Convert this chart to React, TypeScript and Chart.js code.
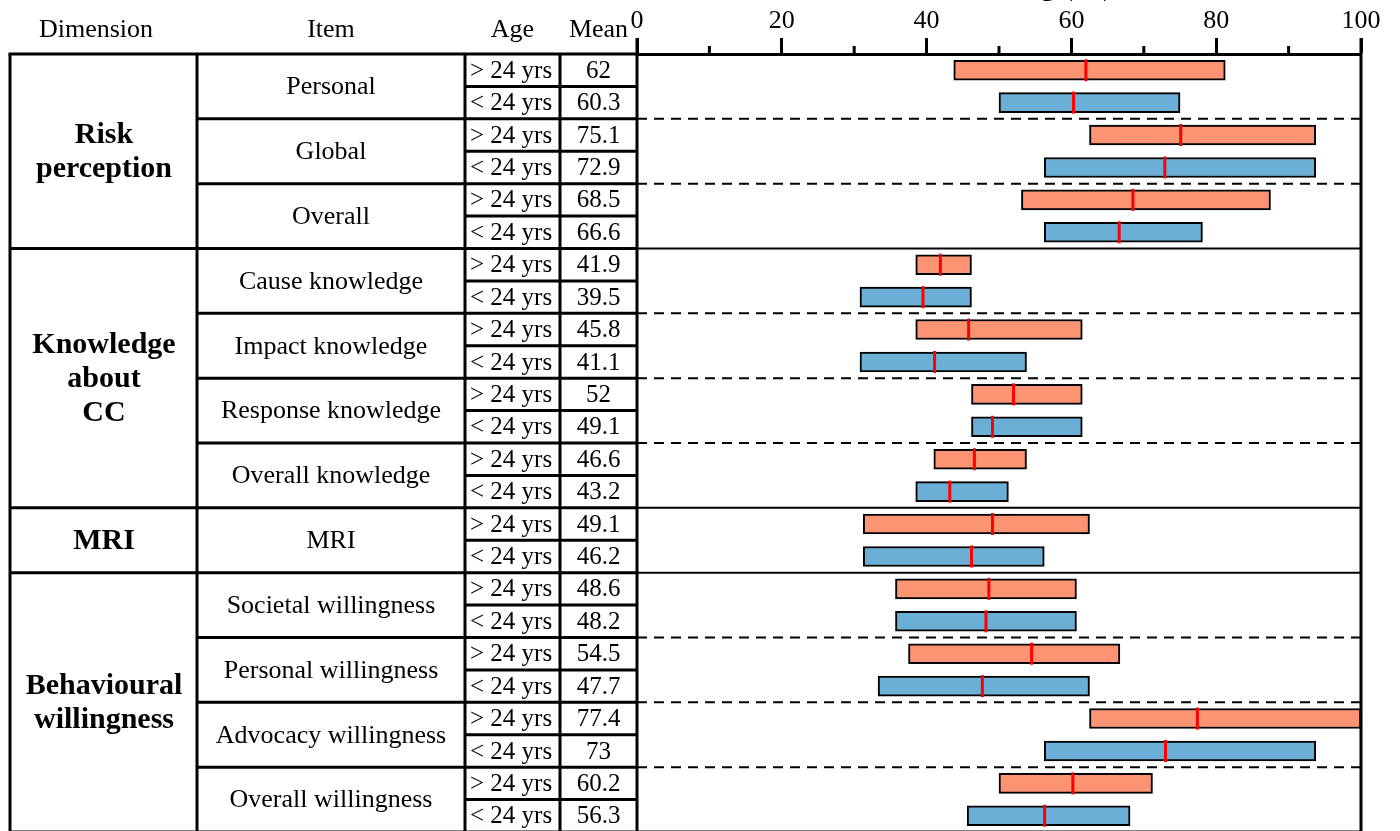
import React, { useEffect, useRef } from 'react';
import { Chart, registerables } from 'chart.js';

Chart.register(...registerables);

// ---------- data ----------
const AGE_GROUPS = ['> 24 yrs', '< 24 yrs'];
const DIMENSIONS = ['Risk\nperception', 'Knowledge\nabout\nCC', 'MRI', 'Behavioural\nwillingness'];
const ITEMS = [
  'Personal', 'Global', 'Overall',
  'Cause knowledge', 'Impact knowledge', 'Response knowledge', 'Overall knowledge',
  'MRI',
  'Societal willingness', 'Personal willingness', 'Advocacy willingness', 'Overall willingness',
];
const ITEM_DIMENSION = [0, 0, 0, 1, 1, 1, 1, 2, 3, 3, 3, 3];
const MEAN_OVER_24 = [62, 75.1, 68.5, 41.9, 45.8, 52, 46.6, 49.1, 48.6, 54.5, 77.4, 60.2];
const MEAN_UNDER_24 = [60.3, 72.9, 66.6, 39.5, 41.1, 49.1, 43.2, 46.2, 48.2, 47.7, 73, 56.3];
const LOW_OVER_24 = [43.75, 62.5, 53.1, 38.5, 38.5, 46.2, 41.0, 31.25, 35.7, 37.5, 62.5, 50];
const HIGH_OVER_24 = [81.25, 93.75, 87.5, 46.2, 61.5, 61.5, 53.8, 62.5, 60.7, 66.7, 100, 71.2];
const LOW_UNDER_24 = [50, 56.25, 56.25, 30.8, 30.8, 46.2, 38.5, 31.25, 35.7, 33.3, 56.25, 45.6];
const HIGH_UNDER_24 = [75, 93.75, 78.1, 46.2, 53.8, 61.5, 51.3, 56.25, 60.7, 62.5, 93.75, 68.1];
const HEADERS = ['Dimension', 'Item', 'Age', 'Mean'];
const X_TICKS_MAJOR = [0, 20, 40, 60, 80, 100];
const AXIS_TITLE = 'Scoring (%)';

const FONT = "'Liberation Serif', 'Times New Roman', serif";

export default function App() {
  const ref = useRef<HTMLCanvasElement>(null);

  useEffect(() => {
    const canvas = ref.current;
    if (!canvas) return;

    const rowLabels: string[] = [];
    const rowItem: number[] = [];
    const rowAge: number[] = [];
    ITEMS.forEach((item, i) => {
      AGE_GROUPS.forEach((age, a) => {
        rowLabels.push(`${item} (${age})`);
        rowItem.push(i);
        rowAge.push(a);
      });
    });

    const overData = rowLabels.map((_, k) =>
      rowAge[k] === 0 ? [LOW_OVER_24[rowItem[k]], HIGH_OVER_24[rowItem[k]]] : null);
    const underData = rowLabels.map((_, k) =>
      rowAge[k] === 1 ? [LOW_UNDER_24[rowItem[k]], HIGH_UNDER_24[rowItem[k]]] : null);
    const meanPoints = rowLabels.map((label, k) => ({
      x: rowAge[k] === 0 ? MEAN_OVER_24[rowItem[k]] : MEAN_UNDER_24[rowItem[k]],
      y: label,
    }));

    const COL_X = [10, 197, 465, 560];

    const tablePlugin = {
      id: 'tablePlugin',
      afterDraw(chart: any) {
        const ctx: CanvasRenderingContext2D = chart.ctx;
        const area = chart.chartArea;
        const ys = chart.scales.y;
        const xs = chart.scales.x;
        const n = rowLabels.length;
        const rowH = Math.abs(ys.getPixelForValue(1) - ys.getPixelForValue(0));
        const boundary = (i: number) =>
          i < n ? ys.getPixelForValue(i) - rowH / 2 : ys.getPixelForValue(n - 1) + rowH / 2;
        const left = COL_X[0];
        const bottom = boundary(n);

        ctx.save();
        ctx.strokeStyle = '#000';
        ctx.lineCap = 'butt';

        const hline = (x1: number, x2: number, y: number, w: number, dash: number[] = []) => {
          ctx.beginPath();
          ctx.setLineDash(dash);
          ctx.lineWidth = w;
          ctx.moveTo(x1, y);
          ctx.lineTo(x2, y);
          ctx.stroke();
        };
        const vline = (x: number, y1: number, y2: number, w: number) => {
          ctx.beginPath();
          ctx.setLineDash([]);
          ctx.lineWidth = w;
          ctx.moveTo(x, y1);
          ctx.lineTo(x, y2);
          ctx.stroke();
        };

        // horizontal lines
        hline(left - 1.5, area.left, area.top, 3);
        for (let i = 1; i <= n; i++) {
          const y = boundary(i);
          if (i === n) { hline(left, area.right, y, 3); continue; }
          const prevItem = rowItem[i - 1];
          const nextItem = rowItem[i];
          if (prevItem !== nextItem) {
            if (ITEM_DIMENSION[prevItem] !== ITEM_DIMENSION[nextItem]) {
              hline(left, area.left, y, 3);
              hline(area.left, area.right, y, 2);
            } else {
              hline(COL_X[1], area.left, y, 3);
              hline(area.left, area.right, y, 2, [10, 7]);
            }
          } else {
            hline(COL_X[2], area.left, y, 3);
          }
        }

        // vertical lines
        COL_X.forEach((x) => vline(x, area.top, bottom, 3));
        vline(area.left, area.top - 16, bottom, 3);
        vline(area.right, area.top - 16, bottom, 3);

        // minor ticks
        for (let v = 10; v < 100; v += 20) {
          const px = xs.getPixelForValue(v);
          vline(px, area.top - 8, area.top, 3);
        }

        // header
        ctx.fillStyle = '#000';
        ctx.textBaseline = 'alphabetic';
        ctx.textAlign = 'center';
        ctx.font = `26px ${FONT}`;
        const headerX = [96, (COL_X[1] + COL_X[2]) / 2, (COL_X[2] + COL_X[3]) / 2, (COL_X[3] + area.left) / 2];
        HEADERS.forEach((h, i) => ctx.fillText(h, headerX[i], 37));

        // cells
        ctx.textBaseline = 'middle';
        ctx.font = `25px ${FONT}`;
        for (let k = 0; k < n; k++) {
          const cy = ys.getPixelForValue(k) + 1;
          ctx.textAlign = 'left';
          ctx.fillText(AGE_GROUPS[rowAge[k]], COL_X[2] + 5, cy);
          ctx.textAlign = 'center';
          const m = rowAge[k] === 0 ? MEAN_OVER_24[rowItem[k]] : MEAN_UNDER_24[rowItem[k]];
          ctx.fillText(String(m), (COL_X[3] + area.left) / 2, cy);
        }
        // items
        ctx.font = `26px ${FONT}`;
        ITEMS.forEach((item, i) => {
          const rows = rowItem.map((r, k) => (r === i ? k : -1)).filter((k) => k >= 0);
          const y1 = boundary(rows[0]);
          const y2 = boundary(rows[rows.length - 1] + 1);
          ctx.textAlign = 'center';
          ctx.fillText(item, (COL_X[1] + COL_X[2]) / 2, (y1 + y2) / 2 + 1);
        });
        // dimensions
        ctx.font = `bold 30px ${FONT}`;
        DIMENSIONS.forEach((dim, d) => {
          const rows = rowItem.map((r, k) => (ITEM_DIMENSION[r] === d ? k : -1)).filter((k) => k >= 0);
          const y1 = boundary(rows[0]);
          const y2 = boundary(rows[rows.length - 1] + 1);
          const lines = dim.split('\n');
          const lh = 34;
          const cy = (y1 + y2) / 2;
          lines.forEach((ln, j) => {
            ctx.fillText(ln, 104, cy + (j - (lines.length - 1) / 2) * lh + 1);
          });
        });

        // axis title (mostly outside the top of the page)
        ctx.font = `bold 30px ${FONT}`;
        ctx.textAlign = 'right';
        ctx.textBaseline = 'alphabetic';
        ctx.fillText(AXIS_TITLE, 1113, -5);

        ctx.restore();
      },
    };

    const chart = new Chart(canvas, {
      type: 'bar',
      data: {
        labels: rowLabels,
        datasets: [
          {
            type: 'bar',
            label: AGE_GROUPS[0],
            data: overData as any,
            backgroundColor: '#FC9474',
            borderColor: '#000',
            borderWidth: 2,
            borderSkipped: false,
            barThickness: 20,
            grouped: false,
            order: 2,
          } as any,
          {
            type: 'bar',
            label: AGE_GROUPS[1],
            data: underData as any,
            backgroundColor: '#6BAED6',
            borderColor: '#000',
            borderWidth: 2,
            borderSkipped: false,
            barThickness: 20,
            grouped: false,
            order: 2,
          } as any,
          {
            type: 'scatter',
            label: 'Mean',
            data: meanPoints as any,
            pointStyle: 'line',
            rotation: 90,
            pointRadius: 11,
            borderColor: '#FF0000',
            backgroundColor: '#FF0000',
            borderWidth: 3,
            order: 1,
          } as any,
        ],
      },
      options: {
        indexAxis: 'y',
        responsive: false,
        animation: false,
        devicePixelRatio: 1,
        layout: { padding: { left: 637, right: 39, top: 0, bottom: 0 } },
        plugins: {
          legend: { display: false },
          tooltip: { enabled: false },
          title: { display: false },
        },
        scales: {
          x: {
            type: 'linear',
            position: 'top',
            min: 0,
            max: 100,
            ticks: {
              stepSize: 10,
              autoSkip: false,
              maxRotation: 0,
              padding: 1,
              color: '#000',
              font: { family: FONT, size: 26 },
              callback: (v: any) => (X_TICKS_MAJOR.includes(Number(v)) ? String(v) : ''),
            },
            grid: {
              drawOnChartArea: false,
              drawTicks: true,
              tickLength: 16,
              tickWidth: 3,
              tickColor: (c: any) =>
                c.tick && X_TICKS_MAJOR.includes(c.tick.value) ? '#000' : 'rgba(0,0,0,0)',
            },
            border: { display: true, color: '#000', width: 3 },
            afterFit: (s: any) => { s.height = 54; },
          },
          y: {
            type: 'category',
            display: false,
            offset: true,
          },
        },
      } as any,
      plugins: [tablePlugin],
    });

    return () => chart.destroy();
  }, []);

  return (
    <div style={{ position: 'absolute', left: 0, top: 0, width: 1400, height: 846, background: '#fff' }}>
      <canvas ref={ref} width={1400} height={846} style={{ display: 'block' }} />
    </div>
  );
}
